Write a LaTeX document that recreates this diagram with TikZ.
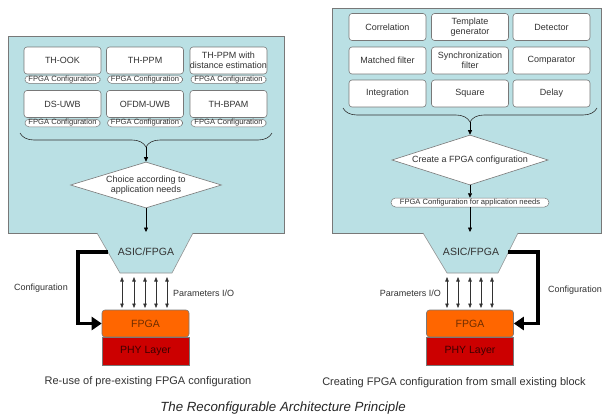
\documentclass[tikz,border=0pt]{standalone}
\usepackage{fontspec}
\setmainfont{Liberation Sans}
\usetikzlibrary{shapes.geometric,decorations.pathreplacing,arrows.meta,calc}
\definecolor{panel}{RGB}{186,224,228}
\definecolor{edge}{RGB}{120,120,120}
\definecolor{txt}{RGB}{50,50,50}
\definecolor{fpgaor}{RGB}{255,102,0}
\definecolor{phyred}{RGB}{204,0,0}
\definecolor{fpgatxt}{RGB}{110,45,0}
\definecolor{phytxt}{RGB}{60,0,0}
\tikzset{
  panelbox/.style={draw=edge, line width=0.6pt, fill=panel},
  blk/.style={draw=edge, fill=white, rounded corners=3pt, line width=0.6pt,
    minimum width=77pt, minimum height=27pt, inner sep=1pt, align=center,
    text=txt, font=\fontsize{9}{10}\selectfont},
  cfgtag/.style={draw=edge, fill=white, rounded corners=3.8pt, line width=0.5pt,
    minimum width=75pt, minimum height=7.5pt, inner xsep=-2pt, inner ysep=0pt,
    text=txt, font=\fontsize{7.6}{7.6}\selectfont},
  choice/.style={diamond, draw=edge, fill=white, line width=0.6pt, aspect=3.2,
    inner sep=0pt, align=center, text=txt, font=\fontsize{9}{10.5}\selectfont},
  brc/.style={draw=txt, line width=0.6pt, decorate,
    decoration={brace, mirror, amplitude=14pt}},
  flow/.style={draw=black, line width=0.6pt, -{Triangle[length=4.5pt,width=4pt]}},
  io/.style={draw=txt, line width=0.6pt, {Triangle[length=4.5pt,width=3.5pt]}-{Triangle[length=4.5pt,width=3.5pt]}},
  cfgarrow/.style={draw=black, line width=3.5pt, -{Triangle[length=10pt,width=13pt]}},
  fpgabox/.style={draw=edge, fill=fpgaor, rounded corners=3pt, line width=0.6pt,
    minimum width=87pt, minimum height=27pt, text=fpgatxt,
    font=\fontsize{10.5}{11}\selectfont},
  phybox/.style={draw=edge, fill=phyred, line width=0.6pt,
    minimum width=87pt, minimum height=28pt, text=phytxt,
    font=\fontsize{10.5}{11}\selectfont},
  lbl/.style={text=txt, font=\fontsize{9}{10}\selectfont, inner sep=1pt},
  captxt/.style={text=txt, font=\fontsize{11}{12}\selectfont, inner sep=1pt},
  asic/.style={text=txt, font=\fontsize{10.5}{11}\selectfont, inner sep=1pt}
}
\begin{document}
\begin{tikzpicture}[x=1pt,y=-1pt]
\useasboundingbox (0,0) rectangle (603,418);
\fill[white] (0,0) rectangle (603,418);

% ================= LEFT =================
\draw[panelbox] (8,36) rectangle (284,233);
\node[blk] (thook) at (62.5,60.5) {TH-OOK};
\node[blk] (thppm) at (145,60.5) {TH-PPM};
\node[blk, inner xsep=-4pt] (thppmd) at (228.5,60.5) {TH-PPM with\\distance estimation};
\node[blk] (dsuwb) at (62.5,104) {DS-UWB};
\node[blk] (ofdm) at (145,104) {OFDM-UWB};
\node[blk] (thbpam) at (228.5,104) {TH-BPAM};
\node[cfgtag] (c1) at (62.5,79.5) {FPGA Configuration};
\node[cfgtag] (c2) at (145,79.5) {FPGA Configuration};
\node[cfgtag] (c3) at (228.5,79.5) {FPGA Configuration};
\node[cfgtag] (c4) at (62.5,123) {FPGA Configuration};
\node[cfgtag] (c5) at (145,123) {FPGA Configuration};
\node[cfgtag] (c6) at (228.5,123) {FPGA Configuration};
\coordinate (bl1) at (20,133);
\coordinate (bl2) at (272,133);
\draw[brc] (bl1) -- (bl2);
\coordinate (tipL) at (146,147);
\node[choice, minimum width=151pt, minimum height=46pt] (dL) at (146,185)
  {Choice according to\\application needs};
\draw[flow] (tipL) -- (dL.north);
\coordinate (asicTopL) at (146,232);
\draw[flow] (dL.south) -- (asicTopL);
% trapezoid
\coordinate (tL1) at (97,233);
\coordinate (tL2) at (193,233);
\coordinate (tL3) at (172,273);
\coordinate (tL4) at (120,273);
\fill[panel] (tL1) -- (tL2) -- (tL3) -- (tL4) -- cycle;
\draw[edge!80, line width=0.6pt] (tL1) -- (tL4) -- (tL3) -- (tL2);
\node[asic] (asicL) at (146,252) {ASIC/FPGA};
\foreach \x in {122,134,145,156,167} { \draw[io] (\x,277) -- (\x,308); }
\node[lbl, anchor=west] (parL) at (172,293) {Parameters I/O};
\node[fpgabox] (fL) at (145.5,323.5) {FPGA};
\node[phybox] (pL) at (145.5,351) {PHY Layer};
\coordinate (cfgL) at (108,252);
\draw[cfgarrow] (cfgL) -- (78,252) |- (fL.west);
\node[lbl] (confL) at (41,288) {Configuration};
\node[captxt] (capL) at (148,382) {Re-use of pre-existing FPGA configuration};

% ================= RIGHT =================
\draw[panelbox] (332,8) rectangle (601,233);
\node[blk] (corr) at (387.5,27) {Correlation};
\node[blk] (tgen) at (470,27) {Template\\generator};
\node[blk] (det) at (551.5,27) {Detector};
\node[blk] (mf) at (387.5,60.5) {Matched filter};
\node[blk] (sync) at (470,60.5) {Synchronization\\filter};
\node[blk] (comp) at (551.5,60.5) {Comparator};
\node[blk] (integ) at (387.5,93.5) {Integration};
\node[blk] (sq) at (470,93.5) {Square};
\node[blk] (del) at (551.5,93.5) {Delay};
\coordinate (br1) at (343,108);
\coordinate (br2) at (597,108);
\draw[brc] (br1) -- (br2);
\coordinate (tipR) at (470,122);
\node[choice, minimum width=156pt, minimum height=50pt] (dR) at (470,160)
  {Create a FPGA configuration};
\draw[flow] (tipR) -- (dR.north);
\node[cfgtag, minimum width=158pt, minimum height=9pt, rounded corners=4.5pt] (eR) at (470,202.5)
  {FPGA Configuration for application needs};
\draw[flow] (dR.south) -- (eR.north);
\coordinate (asicTopR) at (470,232);
\draw[flow] (eR.south) -- (asicTopR);
\coordinate (tR1) at (423,233);
\coordinate (tR2) at (518,233);
\coordinate (tR3) at (498,273);
\coordinate (tR4) at (447,273);
\fill[panel] (tR1) -- (tR2) -- (tR3) -- (tR4) -- cycle;
\draw[edge!80, line width=0.6pt] (tR1) -- (tR4) -- (tR3) -- (tR2);
\node[asic] (asicR) at (471,252) {ASIC/FPGA};
\foreach \x in {447,458,470,481,492} { \draw[io] (\x,277) -- (\x,308); }
\node[lbl, anchor=east] (parR) at (442,293) {Parameters I/O};
\node[fpgabox] (fR) at (470,323.5) {FPGA};
\node[phybox] (pR) at (470,351) {PHY Layer};
\coordinate (cfgR) at (508,252);
\draw[cfgarrow] (cfgR) -- (538,252) |- (fR.east);
\node[lbl] (confR) at (575,290) {Configuration};
\node[captxt] (capR) at (454,383) {Creating FPGA configuration from small existing block};

\node[font=\fontsize{13.3}{15}\selectfont\itshape, text=black!85] (title) at (283,408)
  {The Reconfigurable Architecture Principle};
\end{tikzpicture}
\end{document}
